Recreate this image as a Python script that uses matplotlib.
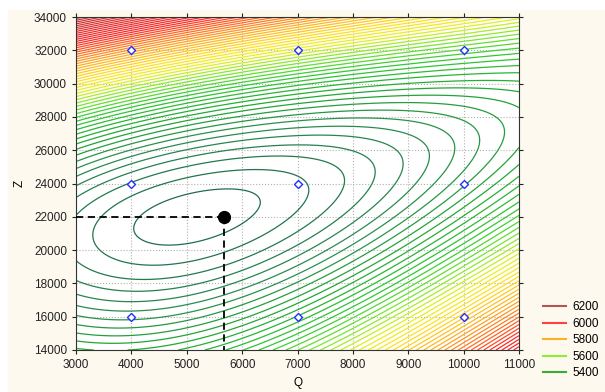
import numpy as np
import matplotlib
matplotlib.use('Agg')
import matplotlib.pyplot as plt
from matplotlib.colors import LinearSegmentedColormap, Normalize
from matplotlib.lines import Line2D

# response on a coarse grid (rows = Z, columns = Q)
grid_q = [3000, 5000, 7000, 9000, 11000]
grid_z = [14000, 16000, 18000, 20000, 22000, 24000, 26000, 28000, 30000, 32000, 34000]
grid_resp = [
    [5500, 5530, 5630, 5790, 6200],
    [5470, 5465, 5530, 5680, 5950],
    [5400, 5385, 5455, 5585, 5740],
    [5372, 5350, 5400, 5505, 5645],
    [5388, 5345, 5378, 5452, 5570],
    [5412, 5352, 5362, 5415, 5510],
    [5478, 5390, 5375, 5405, 5478],
    [5570, 5465, 5428, 5430, 5480],
    [5710, 5620, 5540, 5510, 5530],
    [6000, 5820, 5690, 5660, 5670],
    [6300, 6080, 5870, 5800, 5790],
]
# lowest point of the surface
min_q = 5150
min_z = 22000
min_resp = 5342

# design points (blue markers) and the chosen point
design_q = [4000, 4000, 4000, 7000, 7000, 7000, 10000, 10000, 10000]
design_z = [16000, 24000, 32000, 16000, 24000, 32000, 16000, 24000, 32000]
opt_q = 5680
opt_z = 22000

legend_levels = [6200, 6000, 5800, 5600, 5400]
legend_colors = ['#b85450', '#ff4040', '#ffb020', '#90ee30', '#30b030']

plt.rcParams['font.family'] = ['Liberation Sans', 'DejaVu Sans']


def terms(Q, Z):
    u = (np.asarray(Q, dtype=float) - min_q) / 4000.
    v = (np.asarray(Z, dtype=float) - min_z) / 10000.
    return np.stack([u**2, v**2, u*v, u**3, v**3, u**2*v, u*v**2], axis=-1)


# surface with its minimum at the read point: quadratic bowl plus cubic terms,
# fitted to the grid readings (points near the minimum count more)
gq, gz = np.meshgrid(grid_q, grid_z)
gq, gz = gq.ravel(), gz.ravel()
resp = np.array(grid_resp, dtype=float).ravel() - min_resp
w = 1.0 / (0.15 + ((gq - min_q) / 4000.)**2 + ((gz - min_z) / 10000.)**2)
coef, *_ = np.linalg.lstsq(terms(gq, gz) * w[:, None], resp * w, rcond=None)

Qg, Zg = np.meshgrid(np.linspace(3000, 11000, 300), np.linspace(14000, 34000, 300))
F = min_resp + terms(Qg, Zg) @ coef

nodes = [(5340, '#1f6a4c'), (5420, '#2a8a50'), (5500, '#22aa33'), (5580, '#33cc33'),
         (5640, '#80e830'), (5700, '#e8f020'), (5760, '#ffe020'), (5840, '#ffb020'),
         (5920, '#ff7020'), (6000, '#ff2828'), (6120, '#e03434'), (6220, '#b04040'),
         (6400, '#8a1c1c')]
lo, hi = nodes[0][0], nodes[-1][0]
cmap = LinearSegmentedColormap.from_list('stat', [((v - lo) / (hi - lo), c) for v, c in nodes])

fig = plt.figure(figsize=(6.05, 3.92), dpi=100)
fig.patches.append(plt.Rectangle((8 / 605, 0), 1, 1 - 10 / 392, transform=fig.transFigure,
                                 color='#fdf9ef', zorder=-10))
ax = fig.add_axes([76 / 605, 1 - 350 / 392, 443 / 605, 333 / 392])
ax.set_facecolor('white')

levels = np.arange(5350, 6600, 15)
ax.contour(Qg, Zg, F, levels=levels, cmap=cmap, norm=Normalize(lo, hi), linewidths=0.9, zorder=2)

ax.plot(design_q, design_z, 'D', ms=4, mfc='white', mec='#2030ff', mew=1.0, zorder=4)
ax.plot([3000, opt_q], [opt_z, opt_z], color='black', lw=1.3, dashes=(4, 2.5), zorder=3)
ax.plot([opt_q, opt_q], [opt_z, 14000], color='black', lw=1.3, dashes=(4, 2.5), zorder=3)
ax.plot(opt_q, opt_z, 'o', color='black', ms=8.5, zorder=5)

ax.set_xlim(3000, 11000)
ax.set_ylim(14000, 34000)
ax.set_xticks(np.arange(3000, 11001, 1000))
ax.set_yticks(np.arange(14000, 34001, 2000))
ax.grid(True, linestyle=':', color='#b0b0b0', lw=0.8, zorder=1)
ax.set_axisbelow(True)
ax.tick_params(labelsize=8.5, length=3, top=True, right=True, colors='#222222')
for s in ax.spines.values():
    s.set_color('#333333')
ax.set_xlabel('Q', fontsize=8.5, labelpad=4)
ax.set_ylabel('Z', fontsize=8.5, labelpad=6)

handles = [Line2D([], [], color=c, lw=1.5) for c in legend_colors]
fig.legend(handles, [str(v) for v in legend_levels], loc='lower left',
           bbox_to_anchor=(532 / 605, 2 / 392), frameon=False, fontsize=8.5,
           handlelength=2.0, handletextpad=0.5, labelspacing=0.38)

fig.savefig('out.png', dpi=100)
